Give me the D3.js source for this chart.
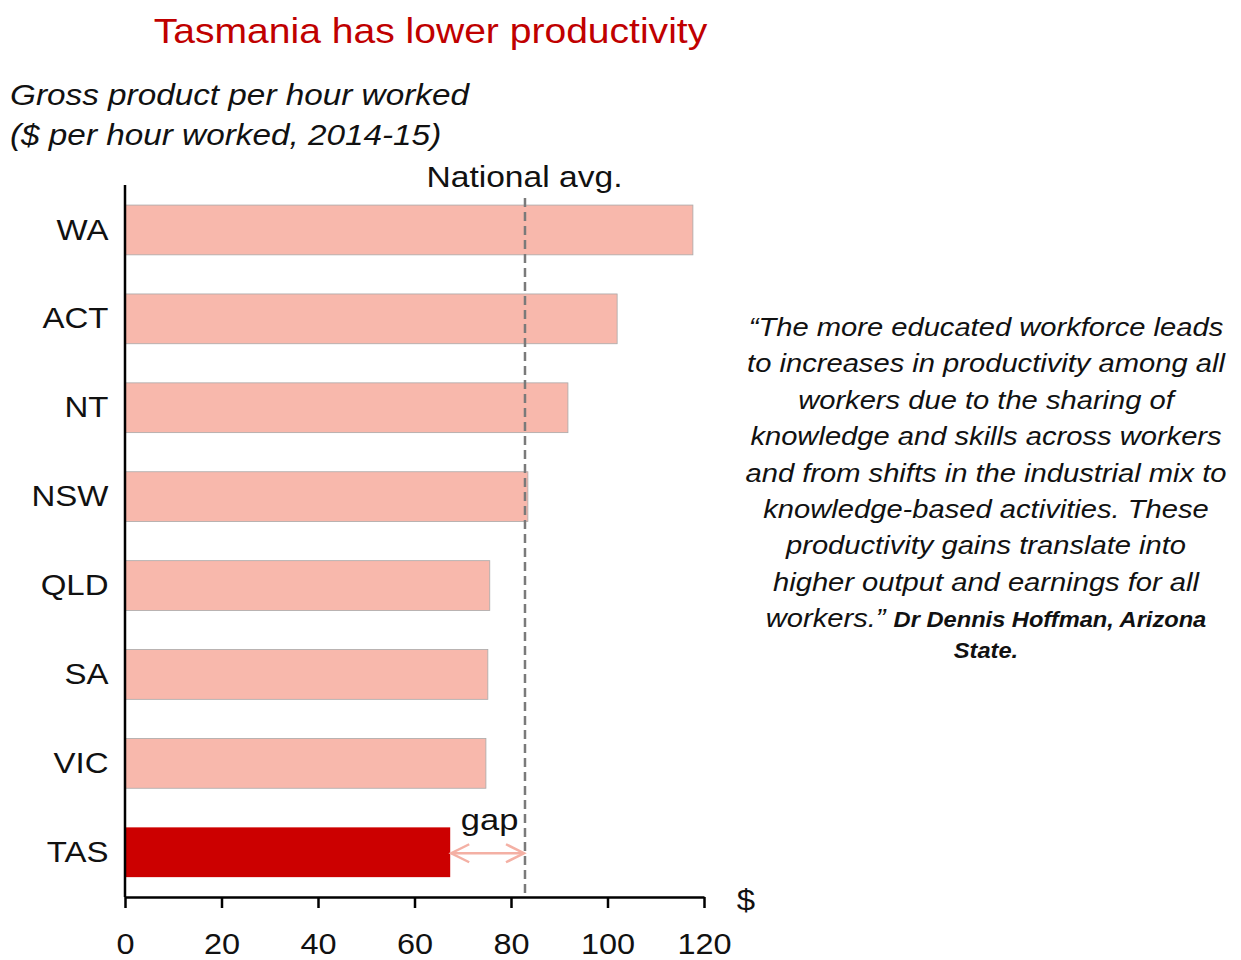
<!DOCTYPE html>
<html>
<head>
<meta charset="utf-8">
<script src="https://cdn.jsdelivr.net/npm/d3@7"></script>
<style>
  html, body { margin: 0; padding: 0; background: #fff; }
  svg { display: block; font-family: "Liberation Sans", Arial, sans-serif; }
</style>
</head>
<body>
<svg id="chart" width="1241" height="960"></svg>
<script>
// Gross product per hour worked, $ (2014-15)
const states = ["WA", "ACT", "NT", "NSW", "QLD", "SA", "VIC", "TAS"];
const productivity = [117.7, 102.0, 91.8, 83.5, 75.6, 75.2, 74.8, 67.4];
const nationalAvg = 82.9;
const highlightState = "TAS";
const xTicks = [0, 20, 40, 60, 80, 100, 120];

const quoteLines = [
  "\u201CThe more educated workforce leads",
  "to increases in productivity among all",
  "workers due to the sharing of",
  "knowledge and skills across workers",
  "and from shifts in the industrial mix to",
  "knowledge-based activities. These",
  "productivity gains translate into",
  "higher output and earnings for all"
];
const quoteTail = "workers.\u201D ";
const quoteSource = ["Dr Dennis Hoffman, Arizona", "State."];

const svg = d3.select("#chart");
const SX = 1.1; // horizontal widening used for all the text

// text placed at (x, y) and widened horizontally around that anchor
function label(parent, x, y, txt, opts) {
  const o = Object.assign({ size: 30, anchor: "start", sx: SX, fill: "#111" }, opts);
  const t = parent.append("text")
    .attr("transform", `translate(${x},${y}) scale(${o.sx},1)`)
    .attr("text-anchor", o.anchor)
    .attr("font-size", o.size)
    .attr("fill", o.fill);
  if (o.italic) t.attr("font-style", "italic");
  if (o.bold) t.attr("font-weight", "bold");
  if (txt != null) t.text(txt);
  return t;
}

const x = d3.scaleLinear().domain([0, 120]).range([125, 704]);
const y = d3.scaleBand().domain(states).range([185.5, 896.7])
  .paddingInner(0.44).paddingOuter(0.22);

// Title
label(svg, 430.5, 43, "Tasmania has lower productivity",
  { size: 36, anchor: "middle", sx: 1.085, fill: "#C00000" });

// Subtitle
label(svg, 10, 105, "Gross product per hour worked", { size: 30, italic: true, sx: 1.11 });
label(svg, 10, 145, "($ per hour worked, 2014-15)", { size: 30, italic: true, sx: 1.11 });

// Bars
const data = states.map((s, i) => ({ state: s, value: productivity[i] }));
svg.append("g").selectAll("rect")
  .data(data)
  .join("rect")
  .attr("x", x(0))
  .attr("y", d => y(d.state))
  .attr("width", d => x(d.value) - x(0))
  .attr("height", y.bandwidth())
  .attr("fill", d => d.state === highlightState ? "#CC0000" : "#F8B8AC")
  .attr("stroke", d => d.state === highlightState ? "none" : "#A9A9A9")
  .attr("stroke-width", 0.8);

// National average reference line
svg.append("line")
  .attr("x1", x(nationalAvg)).attr("x2", x(nationalAvg))
  .attr("y1", 198).attr("y2", 895)
  .attr("stroke", "#7a7a7a")
  .attr("stroke-width", 2.5)
  .attr("stroke-dasharray", "9,5");

label(svg, x(nationalAvg) - 0.5, 187, "National avg.", { size: 30, anchor: "middle", sx: 1.12 });

// Gap arrow between TAS and the national average
const tasVal = productivity[states.indexOf(highlightState)];
const gapY = y(highlightState) + y.bandwidth() / 2 + 1;
const gx1 = x(tasVal) + 1, gx2 = x(nationalAvg) - 1;
const arrow = svg.append("g")
  .attr("stroke", "#F4B0A4").attr("stroke-width", 2.5).attr("fill", "none");
arrow.append("line").attr("x1", gx1).attr("x2", gx2).attr("y1", gapY).attr("y2", gapY);
arrow.append("path").attr("d", `M${gx1 + 18},${gapY - 9} L${gx1},${gapY} L${gx1 + 18},${gapY + 9}`);
arrow.append("path").attr("d", `M${gx2 - 18},${gapY - 9} L${gx2},${gapY} L${gx2 - 18},${gapY + 9}`);
label(svg, (gx1 + gx2) / 2 + 2, 830, "gap", { size: 30, anchor: "middle", sx: 1.15 });

// X axis
const xAxis = svg.append("g")
  .attr("transform", `translate(0,${897})`)
  .call(d3.axisBottom(x).tickValues(xTicks).tickSize(11).tickSizeOuter(0).tickPadding(25));
xAxis.select(".domain").attr("stroke", "#000").attr("stroke-width", 2.5);
xAxis.selectAll(".tick line").attr("stroke", "#000").attr("stroke-width", 2.5);
xAxis.selectAll(".tick text")
  .attr("font-size", 29.5).attr("fill", "#111")
  .attr("transform", `scale(${SX},1)`)
  .attr("font-family", "'Liberation Sans', Arial, sans-serif");

label(svg, 746, 910, "$", { size: 30, anchor: "middle" });

// Y axis
const yAxis = svg.append("g")
  .attr("transform", `translate(${x(0)},0)`)
  .call(d3.axisLeft(y).tickSize(0).tickPadding(15));
yAxis.select(".domain").attr("stroke", "#000").attr("stroke-width", 2.5)
  .attr("d", `M0,185V897`);
yAxis.selectAll(".tick text")
  .attr("font-size", 30).attr("fill", "#111")
  .attr("transform", `scale(${SX},1)`)
  .attr("font-family", "'Liberation Sans', Arial, sans-serif");

// Quote
const qx = 986, qy0 = 336, qStep = 36.4;
const quote = svg.append("g");
quoteLines.forEach((line, i) => {
  label(quote, qx, qy0 + i * qStep, line, { size: 26.5, italic: true, anchor: "middle" });
});
const lastLine = label(quote, qx, qy0 + quoteLines.length * qStep, null,
  { size: 26.5, italic: true, anchor: "middle" });
lastLine.append("tspan").text(quoteTail);
lastLine.append("tspan")
  .attr("font-size", 21.5).attr("font-weight", "bold")
  .text(quoteSource[0]);
label(quote, qx, qy0 + quoteLines.length * qStep + 31, quoteSource[1],
  { size: 21.5, italic: true, bold: true, anchor: "middle" });
</script>
</body>
</html>
